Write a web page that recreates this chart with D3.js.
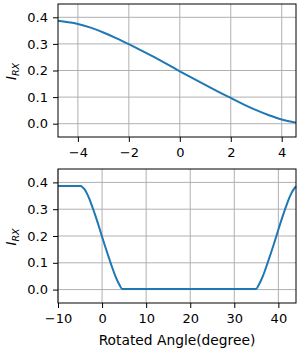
<html>
<head>
<meta charset="utf-8">
<script src="https://cdnjs.cloudflare.com/ajax/libs/d3/7.8.5/d3.min.js"></script>
<style>
  body { margin: 0; background: #fff; }
  text { font-family: "DejaVu Sans", sans-serif; fill: #000; }
</style>
</head>
<body>
<div id="chart"></div>
<script>
// top panel: zoom on the falling edge
const topAngle = [-4.78, -4.5, -4, -3.5, -3, -2.5, -2, -1.5, -1, -0.5, 0, 0.5, 1, 1.5, 2, 2.5, 3, 3.5, 4, 4.56];
const topIrx   = [0.387, 0.383, 0.375, 0.361, 0.343, 0.322, 0.299, 0.275, 0.250, 0.224, 0.197, 0.171, 0.146, 0.121, 0.097, 0.073, 0.051, 0.032, 0.016, 0.004];

// bottom panel: full sweep
const bottomAngle = [-10, -4.78, -4.5, -4, -3.5, -3, -2.5, -2, -1.5, -1, -0.5, 0, 0.5, 1, 1.5, 2, 2.5, 3, 3.5, 4, 4.56,
                     34.94, 35.5, 36, 36.5, 37, 37.5, 38, 38.5, 39, 39.5, 40, 40.5, 41, 41.5, 42, 42.5, 43, 43.5, 44];
const bottomIrx   = [0.387, 0.387, 0.383, 0.375, 0.361, 0.343, 0.322, 0.299, 0.275, 0.250, 0.224, 0.197, 0.171, 0.146, 0.121, 0.097, 0.073, 0.051, 0.032, 0.016, 0.002,
                     0.002, 0.016, 0.032, 0.051, 0.073, 0.097, 0.121, 0.146, 0.171, 0.197, 0.224, 0.250, 0.275, 0.299, 0.322, 0.343, 0.361, 0.375, 0.385];

const topXTicks = [-4, -2, 0, 2, 4];
const bottomXTicks = [-10, 0, 10, 20, 30, 40];
const yTicks = [0.0, 0.1, 0.2, 0.3, 0.4];

const W = 300, H = 350;
const svg = d3.select("#chart").append("svg").attr("width", W).attr("height", H);

function panel(box, xDomain, xTicks, xs, ys, xlabel) {
  const x = d3.scaleLinear().domain(xDomain).range([box.left, box.right]);
  const y = d3.scaleLinear().domain([-0.05, 0.45]).range([box.bottom, box.top]);
  const g = svg.append("g");

  // grid
  g.selectAll(".gx").data(xTicks).join("line")
    .attr("x1", d => x(d)).attr("x2", d => x(d))
    .attr("y1", box.top).attr("y2", box.bottom)
    .attr("stroke", "#b0b0b0").attr("stroke-width", 1);
  g.selectAll(".gy").data(yTicks).join("line")
    .attr("x1", box.left).attr("x2", box.right)
    .attr("y1", d => y(d)).attr("y2", d => y(d))
    .attr("stroke", "#b0b0b0").attr("stroke-width", 1);

  // curve
  const line = d3.line().x((d, i) => x(xs[i])).y(d => y(d)).curve(d3.curveMonotoneX);
  g.append("path").datum(ys)
    .attr("fill", "none").attr("stroke", "#1f77b4").attr("stroke-width", 2)
    .attr("d", line);

  // axes
  const xa = g.append("g").attr("transform", `translate(0,${box.bottom})`)
    .call(d3.axisBottom(x).tickValues(xTicks).tickSize(5).tickPadding(6)
      .tickFormat(d => d < 0 ? "\u2212" + Math.abs(d) : d));
  const ya = g.append("g").attr("transform", `translate(${box.left},0)`)
    .call(d3.axisLeft(y).tickValues(yTicks).tickSize(5).tickPadding(5).tickFormat(d3.format(".1f")));
  [xa, ya].forEach(a => {
    a.select(".domain").remove();
    a.selectAll("line").attr("stroke", "#000").attr("stroke-width", 1);
    a.selectAll("text").attr("font-size", "13px").attr("font-family", "DejaVu Sans").attr("fill", "#000");
  });

  // frame
  g.append("rect").attr("x", box.left).attr("y", box.top)
    .attr("width", box.right - box.left).attr("height", box.bottom - box.top)
    .attr("fill", "none").attr("stroke", "#000").attr("stroke-width", 1);

  // y label I_RX
  const cy = (box.top + box.bottom) / 2 + 1;
  const yl = g.append("text").attr("transform", `translate(16,${cy}) rotate(-90)`)
    .attr("text-anchor", "middle").attr("font-size", "13.5px").attr("font-style", "italic");
  yl.append("tspan").text("I");
  yl.append("tspan").attr("font-size", "9.5px").attr("dy", 2.5).text("RX");

  if (xlabel) {
    g.append("text").attr("x", (box.left + box.right) / 2).attr("y", box.bottom + 42)
      .attr("text-anchor", "middle").attr("font-size", "13.8px").text(xlabel);
  }
}

panel({left: 58, right: 296, top: 4, bottom: 137}, [-4.78, 4.56], topXTicks, topAngle, topIrx, null);
panel({left: 58, right: 296, top: 169, bottom: 303}, [-10, 44], bottomXTicks, bottomAngle, bottomIrx, "Rotated Angle(degree)");
</script>
</body>
</html>
